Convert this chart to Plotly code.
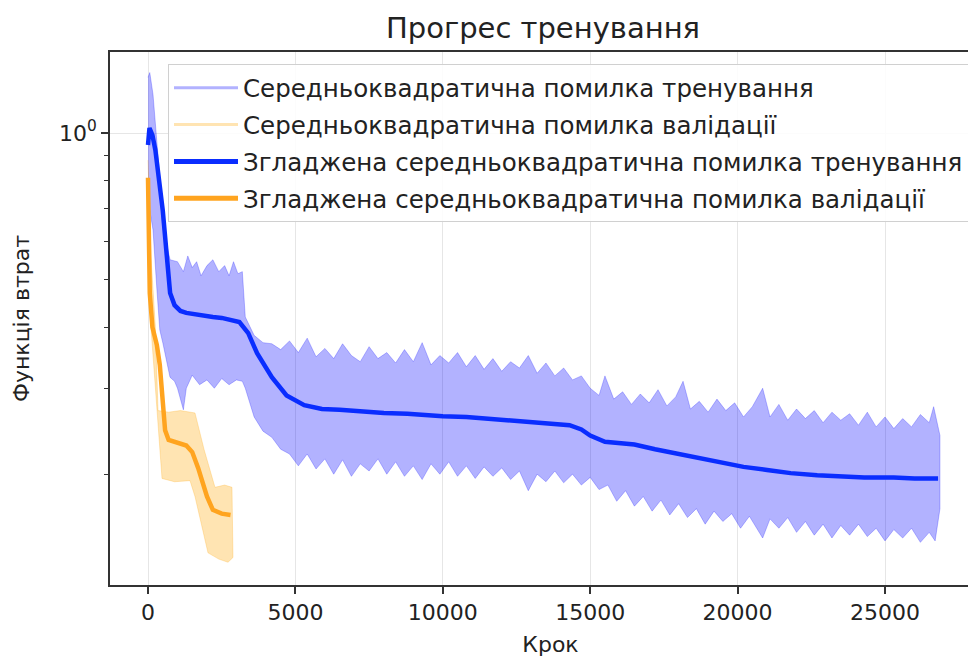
import plotly.graph_objects as go

# ---------------- data ----------------
# Raw training MSE: upper / lower envelope of the noisy curve
train_up_steps = [0, 60, 170, 300, 400, 500, 750, 1000, 1200, 1350, 1500, 1650, 1800, 2000, 2200, 2400, 2600, 2750, 2900, 3050, 3200,
                  3300, 3600, 3900, 4200, 4500, 4800, 5100, 5400, 5700, 6000, 6300, 6600, 6900, 7200, 7500, 7800, 8100, 8400,
                  8700, 9000, 9300, 9600, 9900, 10200, 10500, 10800, 11100, 11400, 11700, 12000, 12300, 12600, 12900, 13200,
                  13500, 13800, 14100, 14400, 14700, 15000, 15300, 15500, 15800, 16100, 16400, 16700, 17000, 17300, 17600, 17900,
                  18150, 18400, 18700, 19000, 19300, 19600, 19900, 20200, 20500, 20850, 21100, 21400, 21700, 22000, 22300, 22600,
                  22900, 23200, 23500, 23800, 24100, 24400, 24700, 25000, 25300, 25600, 25900, 26200, 26500, 26650, 26865]
train_up_vals = [1.30, 1.33, 1.20, 0.95, 0.81, 0.64, 0.55, 0.545, 0.52, 0.56, 0.53, 0.545, 0.51, 0.535, 0.55, 0.52, 0.535, 0.51, 0.545, 0.515, 0.52,
                 0.42, 0.385, 0.372, 0.37, 0.36, 0.375, 0.355, 0.38, 0.348, 0.362, 0.345, 0.37, 0.35, 0.34, 0.365, 0.345, 0.355, 0.338,
                 0.36, 0.34, 0.372, 0.335, 0.35, 0.338, 0.355, 0.332, 0.35, 0.328, 0.345, 0.325, 0.34, 0.33, 0.35, 0.322,
                 0.338, 0.318, 0.33, 0.312, 0.318, 0.30, 0.29, 0.318, 0.285, 0.295, 0.278, 0.292, 0.28, 0.298, 0.276, 0.288,
                 0.31, 0.272, 0.282, 0.268, 0.285, 0.27, 0.28, 0.262, 0.275, 0.30, 0.262, 0.278, 0.258, 0.272, 0.26, 0.27,
                 0.255, 0.268, 0.258, 0.266, 0.252, 0.268, 0.25, 0.262, 0.248, 0.26, 0.25, 0.265, 0.255, 0.275, 0.24]

train_lo_steps = [0, 170, 300, 400, 509, 746, 900, 1000, 1100, 1200, 1300, 1500, 1750, 2000, 2250, 2500, 2750, 3000, 3200,
                  3300, 3600, 3900, 4200, 4500, 4800, 5100, 5400, 5700, 6000, 6300, 6600, 6900, 7200, 7500, 7800, 8100, 8400,
                  8700, 9000, 9300, 9600, 9900, 10200, 10500, 10800, 11100, 11400, 11700, 12000, 12300, 12600, 12900, 13200,
                  13500, 13800, 14100, 14400, 14700, 15000, 15300, 15600, 15900, 16200, 16500, 16800, 17100, 17400, 17700, 18000,
                  18300, 18600, 18900, 19200, 19500, 19800, 20100, 20400, 20850, 21100, 21400, 21700, 22000, 22300, 22600, 22900,
                  23200, 23500, 23800, 24100, 24400, 24700, 25000, 25300, 25600, 25900, 26200, 26500, 26700, 26865]
train_lo_vals = [0.73, 0.633, 0.48, 0.395, 0.37, 0.316, 0.31, 0.30, 0.285, 0.271, 0.30, 0.319, 0.305, 0.312, 0.30, 0.314, 0.305, 0.312, 0.31,
                 0.30, 0.262, 0.245, 0.238, 0.225, 0.22, 0.208, 0.22, 0.205, 0.215, 0.20, 0.214, 0.198, 0.21, 0.203, 0.215, 0.20, 0.212,
                 0.198, 0.208, 0.195, 0.21, 0.20, 0.212, 0.198, 0.208, 0.196, 0.207, 0.198, 0.206, 0.195, 0.203, 0.185, 0.20,
                 0.193, 0.203, 0.192, 0.20, 0.19, 0.197, 0.186, 0.19, 0.176, 0.185, 0.172, 0.18, 0.168, 0.177, 0.165, 0.174,
                 0.163, 0.17, 0.158, 0.168, 0.16, 0.166, 0.155, 0.164, 0.148, 0.162, 0.155, 0.163, 0.152, 0.16, 0.15, 0.158,
                 0.148, 0.157, 0.15, 0.158, 0.149, 0.155, 0.146, 0.154, 0.148, 0.155, 0.145, 0.152, 0.146, 0.17]

# Raw validation MSE: upper / lower envelope
val_up_steps = [0, 100, 250, 340, 700, 1100, 1594, 1900, 2272, 2600, 2849]
val_up_vals = [0.88, 0.56, 0.40, 0.27, 0.268, 0.27, 0.267, 0.225, 0.188, 0.19, 0.188]
val_lo_steps = [0, 100, 250, 475, 900, 1425, 1594, 1800, 2035, 2400, 2714, 2883]
val_lo_vals = [0.73, 0.40, 0.30, 0.196, 0.193, 0.194, 0.18, 0.158, 0.138, 0.134, 0.132, 0.135]

# Smoothed training MSE
train_s_steps = [0, 50, 150, 250, 500, 750, 900, 1100, 1300, 1600, 1900, 2200, 2500, 2800, 3100, 3400, 3700, 4200, 4700, 5300,
                 5900, 6500, 7200, 8000, 8800, 9500, 10000, 10800, 11500, 12000, 12800, 13500, 14300, 14700, 15000, 15500,
                 16000, 16500, 17200, 18000, 18700, 19400, 20200, 21000, 21800, 22700, 23500, 24300, 25300, 26000, 26800]
train_s_vals = [0.945, 1.024, 0.99, 0.923, 0.695, 0.47, 0.444, 0.432, 0.428, 0.425, 0.421, 0.42, 0.418, 0.414, 0.41, 0.389, 0.354, 0.316, 0.29, 0.277,
                0.272, 0.271, 0.269, 0.267, 0.266, 0.264, 0.263, 0.262, 0.26, 0.258, 0.256, 0.255, 0.252, 0.247, 0.24, 0.233,
                0.232, 0.23, 0.225, 0.22, 0.216, 0.211, 0.207, 0.204, 0.201, 0.199, 0.198, 0.197, 0.197, 0.196, 0.196]

# Smoothed validation MSE
val_s_steps = [0, 60, 150, 300, 400, 500, 580, 700, 1000, 1300, 1500, 1700, 2000, 2200, 2500, 2800]
val_s_vals = [0.81, 0.47, 0.40, 0.368, 0.335, 0.29, 0.246, 0.235, 0.232, 0.229, 0.222, 0.206, 0.18, 0.169, 0.166, 0.165]

x_ticks = [0, 5000, 10000, 15000, 20000, 25000]
y_minor = [0.2, 0.3, 0.4, 0.5, 0.6, 0.7, 0.8, 0.9]

labels = ["Середньоквадратична помилка тренування",
          "Середньоквадратична помилка валідації",
          "Згладжена середньоквадратична помилка тренування",
          "Згладжена середньоквадратична помилка валідації"]

BLUE = "#0a2dff"
ORANGE = "#ffa41f"
BLUE_LIGHT = "rgba(0,0,255,0.3)"
ORANGE_LIGHT = "rgba(255,165,0,0.3)"
FONT = "DejaVu Sans"

# page body adds an 8px offset; the plot area runs past the right edge of the window as in the reference
W, H = 984, 649
PLOT_W = W - 102 - 1
X_MIN = -1289
X_MAX = X_MIN + PLOT_W / 147.4 * 5000

fig = go.Figure()

fig.add_trace(go.Scatter(x=train_up_steps + train_lo_steps[::-1], y=train_up_vals + train_lo_vals[::-1],
                         fill="toself", fillcolor=BLUE_LIGHT, line=dict(width=0.8, color=BLUE_LIGHT),
                         mode="lines", showlegend=False, hoverinfo="skip"))
fig.add_trace(go.Scatter(x=val_up_steps + val_lo_steps[::-1], y=val_up_vals + val_lo_vals[::-1],
                         fill="toself", fillcolor=ORANGE_LIGHT, line=dict(width=0.8, color=ORANGE_LIGHT),
                         mode="lines", showlegend=False, hoverinfo="skip"))
fig.add_trace(go.Scatter(x=train_s_steps, y=train_s_vals, mode="lines",
                         line=dict(color=BLUE, width=4.5), showlegend=False))
fig.add_trace(go.Scatter(x=val_s_steps, y=val_s_vals, mode="lines",
                         line=dict(color=ORANGE, width=4.5), showlegend=False))

# legend entries
legend_styles = [(BLUE_LIGHT, 3), (ORANGE_LIGHT, 3), (BLUE, 5), (ORANGE, 5)]
for i, (lab, (col, w)) in enumerate(zip(labels, legend_styles)):
    fig.add_trace(go.Scatter(x=[None], y=[None], mode="lines", name=lab,
                             line=dict(color=col, width=w), legendgroup=f"g{i}"))

fig.update_layout(
    width=W, height=H,
    margin=dict(l=102, r=1, t=44, b=72, autoexpand=False),
    paper_bgcolor="white", plot_bgcolor="white",
    font=dict(family=FONT, size=22, color="#222222"),
    title=dict(text="Прогрес тренування", x=(543 - 8) / W, xref="container", xanchor="center",
               y=1 - 20 / H, yanchor="middle", font=dict(size=29, color="#222222")),
    legend=dict(x=(168 - 110) / PLOT_W, y=0.977, xanchor="left", yanchor="top",
                bgcolor="rgba(255,255,255,0.85)", bordercolor="#d0d0d0", borderwidth=1,
                font=dict(size=24.5, color="#222222"), tracegroupgap=2, traceorder="grouped",
                itemwidth=64),
    showlegend=True,
)

fig.update_xaxes(
    range=[X_MIN, X_MAX], tickvals=x_ticks, ticktext=[str(v) for v in x_ticks],
    ticks="outside", ticklen=7, tickwidth=1.5, tickcolor="#333333",
    showline=True, linecolor="#333333", linewidth=1.5, mirror=True,
    showgrid=True, gridcolor="#e6e6e6", gridwidth=1.2, zeroline=False, automargin=False,
    title=dict(text="Крок", font=dict(size=22), standoff=14),
)
fig.update_yaxes(
    type="log", range=[-0.926, 0.166],
    tickvals=[1.0], ticktext=["10<sup>0</sup>"],
    ticks="outside", ticklen=7, tickwidth=1.5, tickcolor="#333333",
    minor=dict(tickvals=y_minor, ticks="outside", ticklen=4, tickwidth=1.2, tickcolor="#333333", showgrid=False),
    showline=True, linecolor="#333333", linewidth=1.5, mirror=True,
    showgrid=True, gridcolor="#e6e6e6", gridwidth=1.2, zeroline=False, automargin=False,
    title=dict(text="Функція втрат", font=dict(size=22), standoff=23),
)

fig.write_html("out.html")
